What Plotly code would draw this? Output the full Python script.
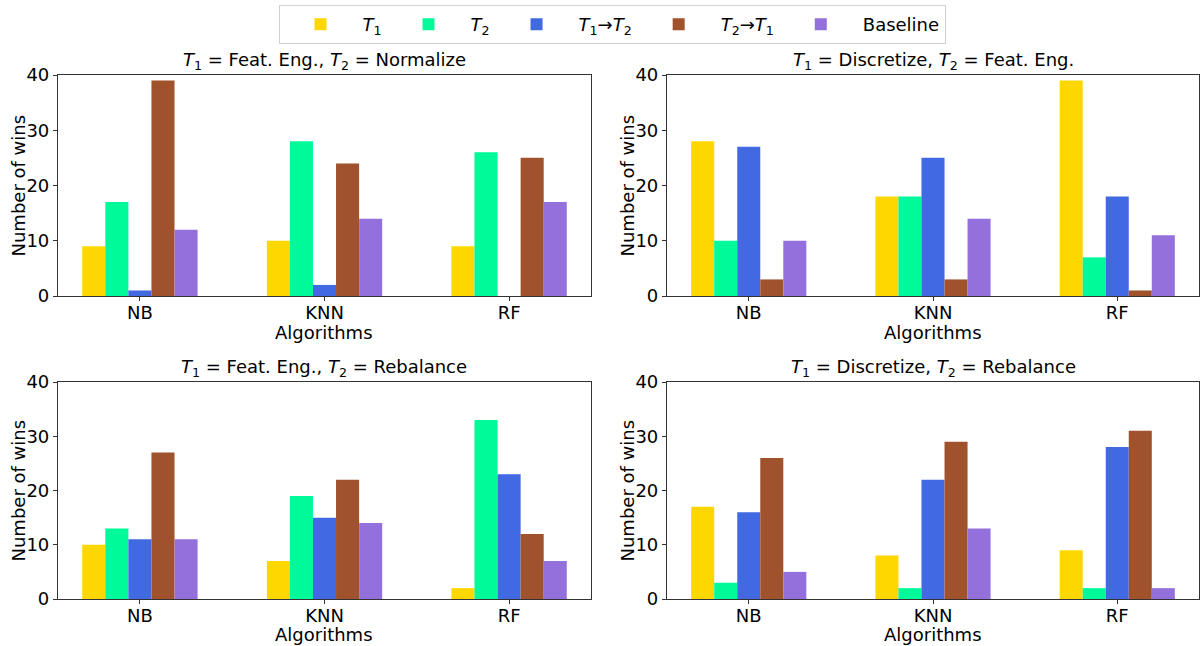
import plotly.graph_objects as go
from plotly.subplots import make_subplots

# Algorithms compared in every panel
algorithms = ["NB", "KNN", "RF"]

# Series names and colours
series_names = [
    "<i>T</i><sub>1</sub>",
    "<i>T</i><sub>2</sub>",
    "<i>T</i><sub>1</sub>→<i>T</i><sub>2</sub>",
    "<i>T</i><sub>2</sub>→<i>T</i><sub>1</sub>",
    "Baseline",
]
series_colors = ["#FFD700", "#00FA9A", "#4169E1", "#A0522D", "#9370DB"]

# Panel titles
panel_titles = [
    "<i>T</i><sub>1</sub> = Feat. Eng., <i>T</i><sub>2</sub> = Normalize",
    "<i>T</i><sub>1</sub> = Discretize, <i>T</i><sub>2</sub> = Feat. Eng.",
    "<i>T</i><sub>1</sub> = Feat. Eng., <i>T</i><sub>2</sub> = Rebalance",
    "<i>T</i><sub>1</sub> = Discretize, <i>T</i><sub>2</sub> = Rebalance",
]

# Number of wins per panel, one list per series (T1, T2, T1->T2, T2->T1, Baseline)
featEng_normalize = [
    [9, 10, 9],
    [17, 28, 26],
    [1, 2, 0],
    [39, 24, 25],
    [12, 14, 17],
]
discretize_featEng = [
    [28, 18, 39],
    [10, 18, 7],
    [27, 25, 18],
    [3, 3, 1],
    [10, 14, 11],
]
featEng_rebalance = [
    [10, 7, 2],
    [13, 19, 33],
    [11, 15, 23],
    [27, 22, 12],
    [11, 14, 7],
]
discretize_rebalance = [
    [17, 8, 9],
    [3, 2, 2],
    [16, 22, 28],
    [26, 29, 31],
    [5, 13, 2],
]

panels = [featEng_normalize, discretize_featEng, featEng_rebalance, discretize_rebalance]
positions = [(1, 1), (1, 2), (2, 1), (2, 2)]

FONT = "DejaVu Sans"
FS = 18
W, H = 1200, 646

fig = make_subplots(rows=2, cols=2)

for p, (data, (r, c)) in enumerate(zip(panels, positions)):
    for s, (name, color) in enumerate(zip(series_names, series_colors)):
        fig.add_trace(
            go.Bar(
                x=algorithms,
                y=data[s],
                name=name,
                marker=dict(color=color, line=dict(width=0)),
                showlegend=(p == 0),
                legendgroup=str(s),
            ),
            row=r,
            col=c,
        )

# Axes boxes in pixel terms, converted to paper fractions
x_doms = [(58, 591), (667, 1199)]
y_doms = [(75, 296), (382, 599)]
# Vertical centre of the "Algorithms" label under each row
xlabel_y = [332, 634]


def px_x(v):
    return v / W


def px_y(v):
    return 1 - v / H


axis_common = dict(
    showline=True,
    linecolor="#333333",
    linewidth=1.2,
    mirror=True,
    ticks="outside",
    ticklen=4,
    tickcolor="#333333",
    showgrid=False,
    zeroline=False,
    automargin=False,
    tickfont=dict(family=FONT, size=FS, color="black"),
)


def label(text, x, y, **kw):
    fig.add_annotation(
        text=text,
        x=x,
        y=y,
        xref="paper",
        yref="paper",
        showarrow=False,
        borderpad=0,
        font=dict(family=FONT, size=FS, color="black"),
        **kw,
    )


for p, (r, c) in enumerate(positions):
    idx = p + 1
    xd = x_doms[c - 1]
    yd = y_doms[r - 1]
    xa = "xaxis" if idx == 1 else f"xaxis{idx}"
    ya = "yaxis" if idx == 1 else f"yaxis{idx}"
    fig.layout[xa].update(
        domain=[px_x(xd[0]), px_x(xd[1])],
        range=[-0.44375, 2.44375],
        ticklabelstandoff=-4,
        **axis_common,
    )
    fig.layout[ya].update(
        domain=[px_y(yd[1]), px_y(yd[0])],
        range=[0, 40],
        tickvals=[0, 10, 20, 30, 40],
        **axis_common,
    )
    xmid = (px_x(xd[0]) + px_x(xd[1])) / 2
    # axis labels
    label("Algorithms", xmid, px_y(xlabel_y[r - 1]), xanchor="center", yanchor="middle")
    label(
        "Number of wins",
        px_x(xd[0] - 40),
        (px_y(yd[0]) + px_y(yd[1])) / 2,
        xanchor="center",
        yanchor="middle",
        textangle=-90,
    )
    # panel title
    label(panel_titles[p], xmid, px_y(yd[0]), xanchor="center", yanchor="bottom", yshift=1)

fig.update_layout(
    width=W,
    height=H,
    margin=dict(l=0, r=0, t=0, b=0, autoexpand=False),
    paper_bgcolor="white",
    plot_bgcolor="white",
    barmode="group",
    bargap=0.375,
    bargroupgap=0,
    font=dict(family=FONT, size=FS, color="black"),
    legend=dict(
        orientation="h",
        x=612 / W,
        xanchor="center",
        y=1 - 5 / H,
        yanchor="top",
        bordercolor="#d0d0d0",
        borderwidth=1,
        font=dict(family=FONT, size=FS, color="black"),
        itemwidth=74,
        tracegroupgap=0,
    ),
)

fig.write_html("out.html")
